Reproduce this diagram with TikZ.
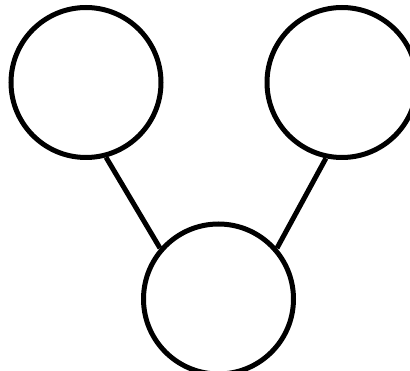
\documentclass[tikz,border=0pt]{standalone}
\usepackage{xcolor}
\usepackage{tikz}

\begin{document}
\begin{tikzpicture}[x=1pt,y=-1pt]
            \tikzset{vertex/.style={circle,draw,line width=5pt,minimum size=150pt,inner sep=0pt}}
            \useasboundingbox (0,0) rectangle (410,371);
            
            \node[vertex] (topleft) at (86,82.5) {};
            \node[vertex] (topright) at (342,82.5) {};
            \node[vertex] (bottom) at (218.5,299) {};
            
            \draw[line width=5pt] (topleft.-75) -- (bottom.139);
            \draw[line width=5pt] (topright.-102) -- (bottom.41);
         \end{tikzpicture}
\end{document}
